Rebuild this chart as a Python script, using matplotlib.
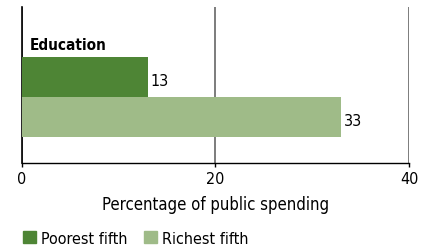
import matplotlib.pyplot as plt
from matplotlib.patches import Patch

groups = ['Poorest fifth', 'Richest fifth']
values = [13, 33]
colors = ['#4e8535', '#9fbb88']
xticks = [0, 20, 40]

plt.rcParams['font.family'] = ['DejaVu Sans']
plt.rcParams['font.stretch'] = 'condensed'

W, H = 427, 251
fig = plt.figure(figsize=(W / 100, H / 100), dpi=100)
ax = fig.add_axes([22 / W, (H - 164) / H, (409 - 22) / W, (164 - 8) / H])

ypos = [0, 1]
ax.barh(ypos, values, height=1.0, color=colors, zorder=3)
for y, v in zip(ypos, values):
    ax.text(v + 0.3, y + 0.1, str(v), va='center', ha='left', fontsize=11.5)

ax.text(0.8, -0.8, 'Education', fontsize=11, fontweight='bold', va='center', ha='left')

ax.set_xlim(0, 40)
ax.set_ylim(2.16, -1.74)
ax.set_xticks(xticks)
ax.set_yticks([])
ax.tick_params(axis='x', length=3, width=1, labelsize=11.5, pad=3)
ax.xaxis.grid(True, color='#666666', linewidth=1.2, zorder=0)
for s in ['top', 'right']:
    ax.spines[s].set_visible(False)
ax.spines['left'].set_color('black')
ax.spines['left'].set_linewidth(1.2)
ax.spines['bottom'].set_linewidth(1)
ax.set_xlabel('Percentage of public spending', fontsize=12, labelpad=6)

handles = [Patch(color=c) for c in colors]
fig.legend(handles, groups, loc='lower left', bbox_to_anchor=(0.02, -0.04), ncol=2,
           frameon=False, fontsize=11.5, handlelength=0.8, handleheight=0.8,
           handletextpad=0.35, columnspacing=1.0)

fig.savefig('out.png', dpi=100)
